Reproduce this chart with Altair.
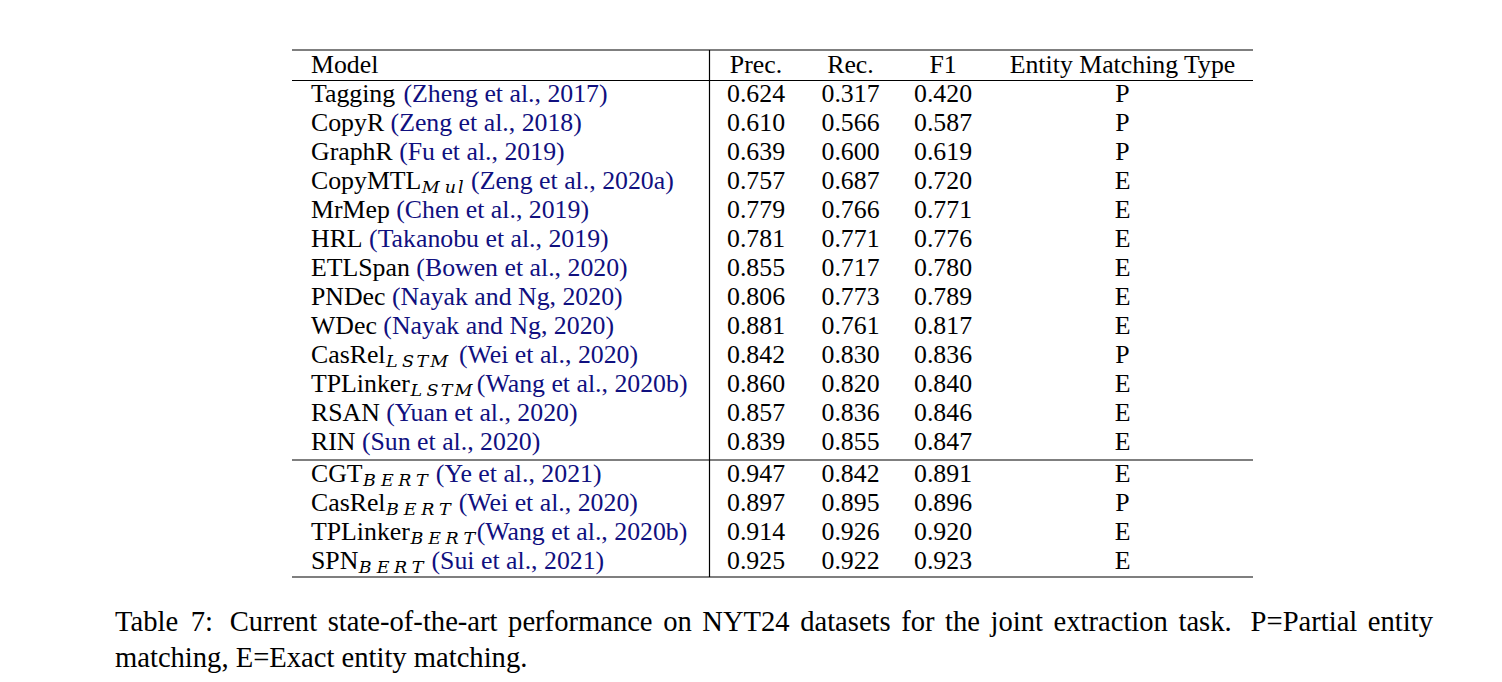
import altair as alt
import pandas as pd

# ---------------- data ----------------
models = ["Tagging", "CopyR", "GraphR", "CopyMTL", "MrMep", "HRL", "ETLSpan", "PNDec",
          "WDec", "CasRel", "TPLinker", "RSAN", "RIN", "CGT", "CasRel", "TPLinker", "SPN"]
subs = ["", "", "", "Mul", "", "", "", "", "", "LSTM", "LSTM", "", "", "BERT", "BERT", "BERT", "BERT"]
cites = ["(Zheng et al., 2017)", "(Zeng et al., 2018)", "(Fu et al., 2019)", "(Zeng et al., 2020a)",
         "(Chen et al., 2019)", "(Takanobu et al., 2019)", "(Bowen et al., 2020)", "(Nayak and Ng, 2020)",
         "(Nayak and Ng, 2020)", "(Wei et al., 2020)", "(Wang et al., 2020b)", "(Yuan et al., 2020)",
         "(Sun et al., 2020)", "(Ye et al., 2021)", "(Wei et al., 2020)", "(Wang et al., 2020b)",
         "(Sui et al., 2021)"]
cite_space = [True, True, True, True, True, True, True, True, True, True, False, True, True,
              True, True, False, True]
prec = [0.624, 0.610, 0.639, 0.757, 0.779, 0.781, 0.855, 0.806, 0.881, 0.842, 0.860, 0.857, 0.839,
        0.947, 0.897, 0.914, 0.925]
rec = [0.317, 0.566, 0.600, 0.687, 0.766, 0.771, 0.717, 0.773, 0.761, 0.830, 0.820, 0.836, 0.855,
       0.842, 0.895, 0.926, 0.922]
f1 = [0.420, 0.587, 0.619, 0.720, 0.771, 0.776, 0.780, 0.789, 0.817, 0.836, 0.840, 0.846, 0.847,
      0.891, 0.896, 0.920, 0.923]
match_type = ["P", "P", "P", "E", "E", "E", "E", "E", "E", "P", "E", "E", "E", "E", "P", "E", "E"]
headers = ["Model", "Prec.", "Rec.", "F1", "Entity Matching Type"]
caption_line1 = ("Table 7: Current state-of-the-art performance on NYT24 datasets for the joint "
                 "extraction task. P=Partial entity")
caption_line2 = "matching, E=Exact entity matching."
first_group2_row = 13

# ---------------- layout ----------------
W, H, M = 1486, 666, 8
FONT = "Liberation Serif"
SUB_FONT = "DejaVu Serif"
TS = 25.8          # table font size
CS = 28.6          # caption font size
SUB_FS = 17.5      # subscript glyph size
SUB_ADV = 23.5     # subscript advance scale (math italic is wide)
ROW0, PITCH, GROUP_GAP = 72.5, 29.0, 3.0
X_LEFT = 311
COL_CENTERS = [756, 850.5, 943, 1122.5]
TABLE_L, TABLE_R, VLINE_X = 292, 1253, 709.5
LINES_Y = [50, 80.5, 460, 577]
CAP_L, CAP_R, CAP_Y1, CAP_Y2 = 115, 1433, 631, 667
BLACK, NAVY = "#000000", "#10107f"

TIMES = {' ': 250, '(': 333, ')': 333, ',': 250, '-': 333, '.': 250, ':': 278, '=': 564,
         'A': 722, 'B': 667, 'C': 667, 'D': 722, 'E': 611, 'F': 556, 'G': 722, 'H': 722, 'I': 333,
         'J': 389, 'K': 722, 'L': 611, 'M': 889, 'N': 722, 'O': 722, 'P': 556, 'Q': 722, 'R': 667,
         'S': 556, 'T': 611, 'U': 722, 'V': 722, 'W': 944, 'X': 722, 'Y': 722, 'Z': 611,
         'a': 444, 'b': 500, 'c': 444, 'd': 500, 'e': 444, 'f': 333, 'g': 500, 'h': 500, 'i': 278,
         'j': 278, 'k': 500, 'l': 278, 'm': 778, 'n': 500, 'o': 500, 'p': 500, 'q': 500, 'r': 333,
         's': 389, 't': 278, 'u': 500, 'v': 500, 'w': 722, 'x': 500, 'y': 500, 'z': 444}
MATHIT = {'B': 0.759, 'E': 0.738, 'R': 0.759, 'T': 0.584, 'L': 0.681, 'S': 0.613, 'M': 0.970,
          'u': 0.572, 'l': 0.298}


def tw(s, size):
    return sum(TIMES.get(c, 500) for c in s) / 1000.0 * size


def row_y(i):
    return ROW0 + PITCH * (i + 1) + (GROUP_GAP if i >= first_group2_row else 0)


left_items, center_items, sub_items = [], [], []

# header
left_items.append(dict(x=X_LEFT, y=ROW0, text=headers[0], color=BLACK, size=TS))
for cx, h in zip(COL_CENTERS, headers[1:]):
    center_items.append(dict(x=cx, y=ROW0, text=h, color=BLACK, size=TS))

# rows
for i, name in enumerate(models):
    y = row_y(i)
    left_items.append(dict(x=X_LEFT, y=y, text=name, color=BLACK, size=TS))
    x = X_LEFT + tw(name, TS)
    for c in subs[i]:
        sub_items.append(dict(x=x + 0.5, y=y + 4.5, text=c, color=BLACK, size=SUB_FS))
        x += MATHIT[c] * SUB_ADV
    if cite_space[i]:
        x += tw(" ", TS)
    left_items.append(dict(x=x, y=y, text=cites[i], color=NAVY, size=TS))
    for cx, v in zip(COL_CENTERS, [f"{prec[i]:.3f}", f"{rec[i]:.3f}", f"{f1[i]:.3f}", match_type[i]]):
        center_items.append(dict(x=cx, y=y, text=v, color=BLACK, size=TS))

# caption line 1 (justified)
words = caption_line1.split(" ")
wws = [tw(w, CS) for w in words]
weights = [1.6 if w.endswith(":") else (1.8 if w.endswith(".") else 1.0) for w in words[:-1]]
gap = (CAP_R - CAP_L - sum(wws)) / sum(weights)
x = CAP_L
for k, w in enumerate(words):
    left_items.append(dict(x=x, y=CAP_Y1, text=w, color=BLACK, size=CS))
    if k < len(weights):
        x += wws[k] + gap * weights[k]
left_items.append(dict(x=CAP_L, y=CAP_Y2, text=caption_line2, color=BLACK, size=CS))

# rules
rules = [dict(x=TABLE_L, x2=TABLE_R, y=ly, y2=ly) for ly in LINES_Y]
rules.append(dict(x=VLINE_X, x2=VLINE_X, y=LINES_Y[0], y2=LINES_Y[-1]))

xs = alt.Scale(domain=[M, M + W], range=[0, W], nice=False, zero=False)
ys = alt.Scale(domain=[M, M + H], range=[0, H], nice=False, zero=False)


def text_layer(items, align, style="normal", font=FONT):
    return alt.Chart(pd.DataFrame(items)).mark_text(
        align=align, baseline="alphabetic", font=font, fontStyle=style
    ).encode(
        x=alt.X("x:Q", scale=xs, axis=None),
        y=alt.Y("y:Q", scale=ys, axis=None),
        text="text:N",
        color=alt.Color("color:N", scale=None),
        size=alt.Size("size:Q", scale=None),
    )


rule_layer = alt.Chart(pd.DataFrame(rules)).mark_rule(color="black", strokeWidth=1.2).encode(
    x=alt.X("x:Q", scale=xs, axis=None),
    x2="x2:Q",
    y=alt.Y("y:Q", scale=ys, axis=None),
    y2="y2:Q",
)

chart = alt.layer(
    rule_layer,
    text_layer(left_items, "left"),
    text_layer(center_items, "center"),
    text_layer(sub_items, "left", "italic", SUB_FONT),
).properties(
    width=W, height=H, padding=0, autosize=alt.AutoSizeParams(type="none"), background="white"
).configure_view(strokeWidth=0)

chart.save("out.html", embed_options={"renderer": "svg", "actions": False})
